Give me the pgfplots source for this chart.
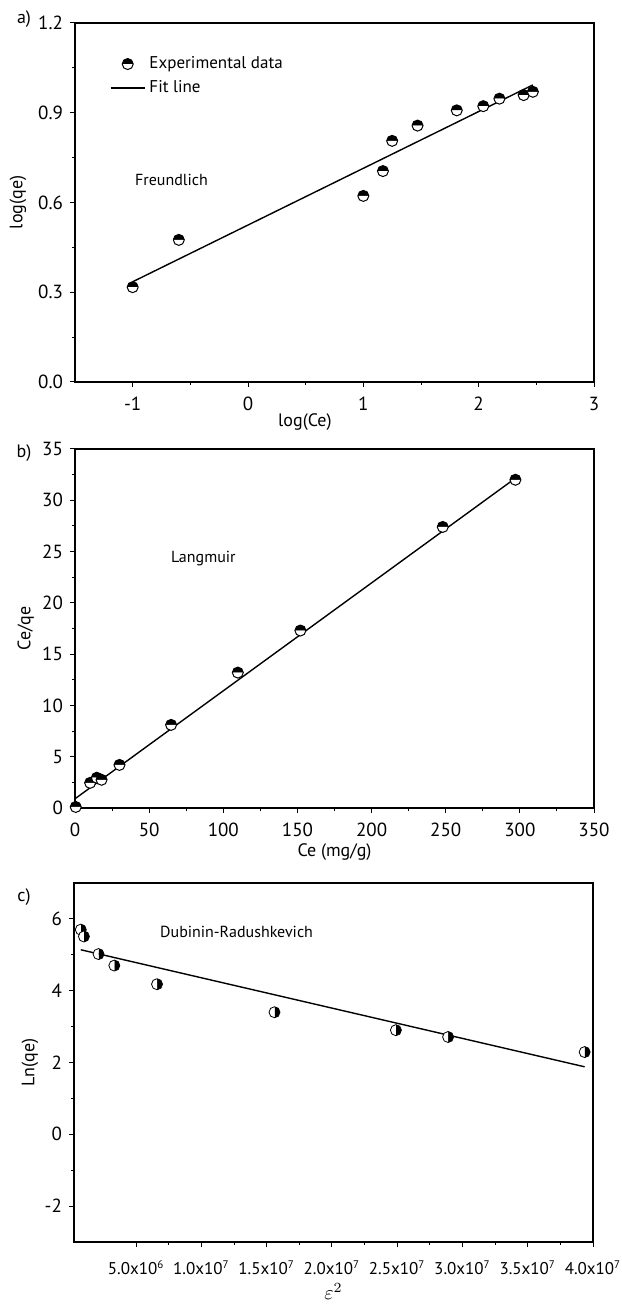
\documentclass[border=0pt]{standalone}
\usepackage{fontspec}
\setmainfont{PT Sans}
\usepackage{pgfplots}
\usepackage{pgfplotstable}
\pgfplotsset{compat=1.18}

% Freundlich: log(Ce) vs log(qe)
\pgfplotstableread{
x y
-1.00 0.317
-0.60 0.475
1.00 0.622
1.17 0.705
1.25 0.806
1.47 0.857
1.81 0.908
2.04 0.922
2.18 0.947
2.39 0.959
2.47 0.970
}\freundlich
\pgfplotstableread{
x y
-1.00 0.335
2.47 0.993
}\freundlichfit

% Langmuir: Ce vs Ce/qe
\pgfplotstableread{
x y
0.5 0.10
10.2 2.45
14.7 2.95
17.9 2.75
30.0 4.20
64.8 8.10
109.8 13.20
152.0 17.30
248.0 27.40
297.0 32.00
}\langmuir
\pgfplotstableread{
x y
0.0 0.90
296.5 32.10
}\langmuirfit

% Dubinin-Radushkevich: eps^2 vs ln(qe)
\pgfplotstableread{
x y
0.76e6 5.70
1.00e6 5.51
2.12e6 5.02
3.33e6 4.70
6.60e6 4.18
15.6e6 3.40
24.9e6 2.90
28.9e6 2.71
39.36e6 2.29
}\dubinin
\pgfplotstableread{
x y
0.76e6 5.14
39.36e6 1.88
}\dubininfit

\pgfplotsset{
  panel/.style={
    width=259.5pt, height=179.5pt, scale only axis,
    axis line style={line width=0.6pt},
    tick align=outside, xtick pos=left, ytick pos=left,
    major tick length=2.5pt, minor tick length=1.5pt,
    tick style={line width=0.5pt, black},
    tick label style={font=\fontsize{9.5}{11}\selectfont},
    xticklabel style={yshift=-1.5pt},
    label style={font=\fontsize{9}{11}\selectfont},
    /pgf/number format/assume math mode=true,
  },
  halfmark/.style={only marks, mark=halfcircle*, mark size=2.75pt,
    mark options={draw=black, fill=black, mark color=white, line width=0.5pt}},
  fitline/.style={no marks, black, line width=0.7pt},
}
\newcommand{\sci}[2]{#1x10\textsuperscript{\fontsize{5.5}{6}\selectfont #2}}

\begin{document}
\begin{tikzpicture}
\useasboundingbox (0,0) rectangle (310.5pt,652.5pt);

% a) Freundlich
\begin{axis}[panel, at={(37.5pt,461.5pt)}, anchor=south west,
    xmin=-1.5, xmax=3, ymin=0, ymax=1.2,
    xtick={-1,0,1,2,3}, minor x tick num=1,
    ytick={0,0.3,0.6,0.9,1.2}, minor y tick num=1,
    yticklabel style={/pgf/number format/.cd, fixed, fixed zerofill, precision=1},
    xlabel={log(Ce)}, ylabel={log(qe)},
    xlabel style={at={(axis description cs:0.443,-0.113)}, anchor=center},
    ylabel style={at={(axis description cs:-0.11,0.5)}, anchor=center},
    legend style={draw=none, fill=none, at={(0.055,0.93)}, anchor=north west,
      font=\fontsize{8.5}{10}\selectfont, row sep=0.5pt},
    legend cell align=left,
  ]
  \addplot[halfmark] table {\freundlich};
  \addlegendentry{Experimental data}
  \addplot[fitline] table {\freundlichfit};
  \addlegendentry{Fit line}
  \node[anchor=west, font=\fontsize{8}{9}\selectfont] at (axis cs:-1.04,0.675) {Freundlich};
\end{axis}

% b) Langmuir
\begin{axis}[panel, at={(37.5pt,248.5pt)}, anchor=south west,
    xmin=0, xmax=350, ymin=0, ymax=35,
    xtick={0,50,...,350}, minor x tick num=1,
    ytick={0,5,...,35}, minor y tick num=1,
    xlabel={Ce (mg/g)}, ylabel={Ce/qe},
    xlabel style={at={(axis description cs:0.5,-0.122)}, anchor=center},
    ylabel style={at={(axis description cs:-0.095,0.5)}, anchor=center},
  ]
  \addplot[halfmark] table {\langmuir};
  \addplot[fitline] table {\langmuirfit};
  \node[anchor=west, font=\fontsize{8}{9}\selectfont] at (axis cs:60,24.3) {Langmuir};
\end{axis}

% c) Dubinin-Radushkevich
\begin{axis}[panel, at={(37pt,31.5pt)}, anchor=south west,
    xmin=2.4e5, xmax=4e7, ymin=-3, ymax=7,
    scaled x ticks=false,
    xtick={5e6,1e7,1.5e7,2e7,2.5e7,3e7,3.5e7,4e7}, minor x tick num=1,
    xticklabels={\sci{5.0}{6},\sci{1.0}{7},\sci{1.5}{7},\sci{2.0}{7},
      \sci{2.5}{7},\sci{3.0}{7},\sci{3.5}{7},\sci{4.0}{7}},
    xticklabel style={yshift=-2pt, font=\fontsize{8.5}{10}\selectfont},
    ytick={-2,0,2,4,6}, minor y tick num=1,
    xlabel={$\varepsilon^{2}$}, ylabel={Ln(qe)},
    xlabel style={at={(axis description cs:0.5,-0.138)}, anchor=center, font=\fontsize{10}{11}\selectfont},
    ylabel style={at={(axis description cs:-0.085,0.5)}, anchor=center},
  ]
  \addplot[halfmark, mark options={rotate=-90}] table {\dubinin};
  \addplot[fitline] table {\dubininfit};
  \node[anchor=west, font=\fontsize{8}{9}\selectfont] at (axis cs:6.3e6,5.64) {Dubinin-Radushkevich};
\end{axis}

\node[font=\fontsize{9}{10}\selectfont] at (12pt,643pt) {a)};
\node[font=\fontsize{9}{10}\selectfont] at (12pt,426pt) {b)};
\node[font=\fontsize{9}{10}\selectfont] at (12pt,204pt) {c)};
\end{tikzpicture}
\end{document}
